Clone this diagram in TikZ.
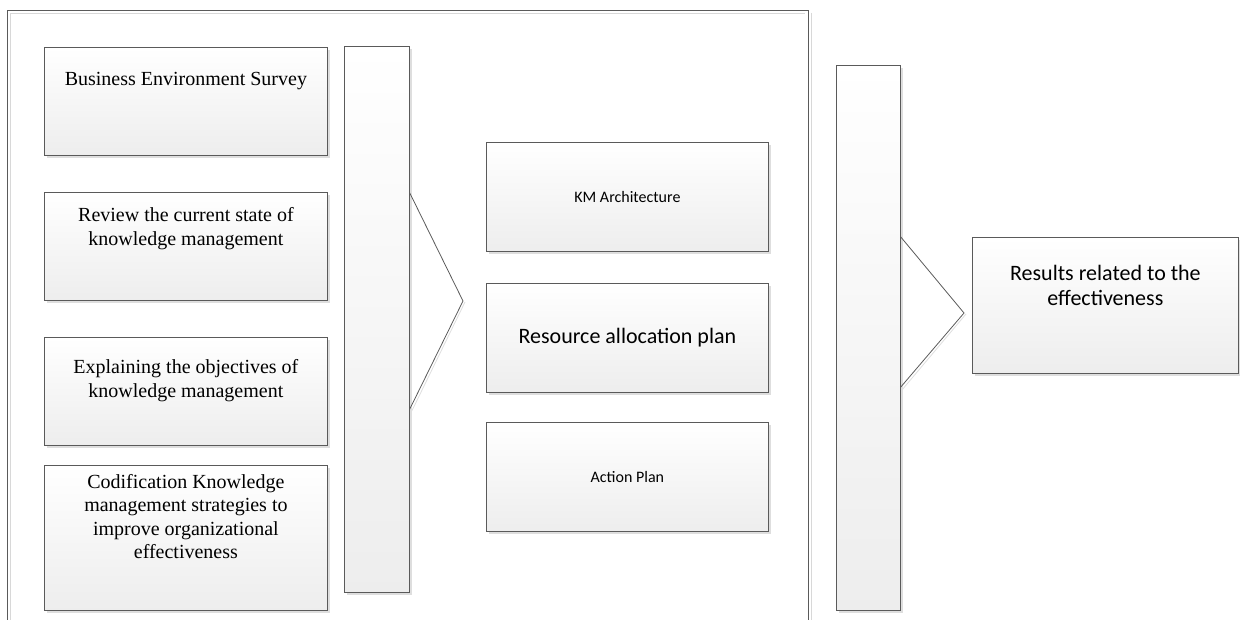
\documentclass[tikz,border=0pt]{standalone}
\usepackage{fontspec}
\setmainfont{Liberation Serif}
\newfontfamily\calib{Carlito}
\usetikzlibrary{shadows,calc}
\definecolor{edgecol}{HTML}{5A5A5A}
\definecolor{shadcol}{HTML}{DEDEDE}
\definecolor{framelight}{HTML}{D8D8D8}
\begin{document}
\begin{tikzpicture}[x=1pt,y=-1pt,
  box/.style={draw=edgecol, line width=0.8pt, top color=white, bottom color=black!7,
    inner sep=0pt, anchor=north west,
    general shadow={shadow xshift=3pt, shadow yshift=-3pt, fill=shadcol}},
  serifl/.style={font=\fontsize{20}{23.5}\selectfont, align=center, inner sep=0pt},
  calsmall/.style={font=\calib\fontsize{16}{19}\selectfont, align=center, inner sep=0pt},
  calbig/.style={font=\calib\fontsize{22}{26}\selectfont, align=center, inner sep=0pt},
  calres/.style={font=\calib\fontsize{22}{25.5}\selectfont, align=center, inner sep=0pt},
  chev/.style={draw=edgecol, line width=0.8pt},
  chevshadow/.style={draw=shadcol, line width=0.8pt}
]
\useasboundingbox (0,0) rectangle (1240,620);
% outer frame
\draw[framelight, line width=0.8pt] (10,640) -- (10,13) -- (805,13);
\draw[framelight, line width=0.8pt] (811,13) -- (811,640);
\draw[edgecol, line width=0.8pt] (7,640) -- (7,10) -- (808,10) -- (808,640);

% left column
\node[box, minimum width=283pt, minimum height=108pt] (b1) at (44,47) {};
\node[box, minimum width=283pt, minimum height=108pt] (b2) at (44,192) {};
\node[box, minimum width=283pt, minimum height=108pt] (b3) at (44,337) {};
\node[box, minimum width=283pt, minimum height=145pt] (b4) at (44,465) {};
\node[serifl] (t1) at ($(b1.north)+(0,34)$) {Business Environment Survey};
\node[serifl] (t2) at ($(b2.north)+(0,36.5)$) {Review the current state of\\knowledge management};
\node[serifl] (t3) at ($(b3.north)+(0,43.5)$) {Explaining the objectives of\\knowledge management};
\node[serifl] (t4) at ($(b4.north)+(0,51.5)$) {Codification Knowledge\\management strategies to\\improve organizational\\effectiveness};

% first bar with chevron
\node[box, minimum width=65pt, minimum height=546pt] (bar1) at (344,46) {};
\coordinate (c1a) at ($(bar1.north east)+(0,147)$);
\coordinate (c1b) at ($(bar1.north east)+(0,363)$);
\coordinate (tip1) at (463,301);
\draw[chevshadow] ($(tip1)+(2,1)$) -- ($(c1b)+(2,2)$);
\draw[chev] (c1a) -- (tip1) -- (c1b);

% middle column
\node[box, minimum width=282pt, minimum height=109pt] (m1) at (486,142) {};
\node[box, minimum width=282pt, minimum height=109pt] (m2) at (486,283) {};
\node[box, minimum width=282pt, minimum height=109pt] (m3) at (486,422) {};
\node[calsmall] (mt1) at (m1.center) {KM Architecture};
\node[calbig] (mt2) at (m2.center) {Resource allocation plan};
\node[calsmall] (mt3) at (m3.center) {Action Plan};

% second bar with chevron
\node[box, minimum width=64pt, minimum height=545pt] (bar2) at (836,65) {};
\coordinate (c2a) at ($(bar2.north east)+(0,172)$);
\coordinate (c2b) at ($(bar2.north east)+(0,322)$);
\coordinate (tip2) at (964,313);
\draw[chevshadow] ($(tip2)+(2,1)$) -- ($(c2b)+(2,2)$);
\draw[chev] (c2a) -- (tip2) -- (c2b);

% result box
\node[box, minimum width=266pt, minimum height=136pt] (res) at (972,237) {};
\node[calres] (rt) at ($(res.north)+(0,48.5)$) {Results related to the\\effectiveness};
\end{tikzpicture}
\end{document}
